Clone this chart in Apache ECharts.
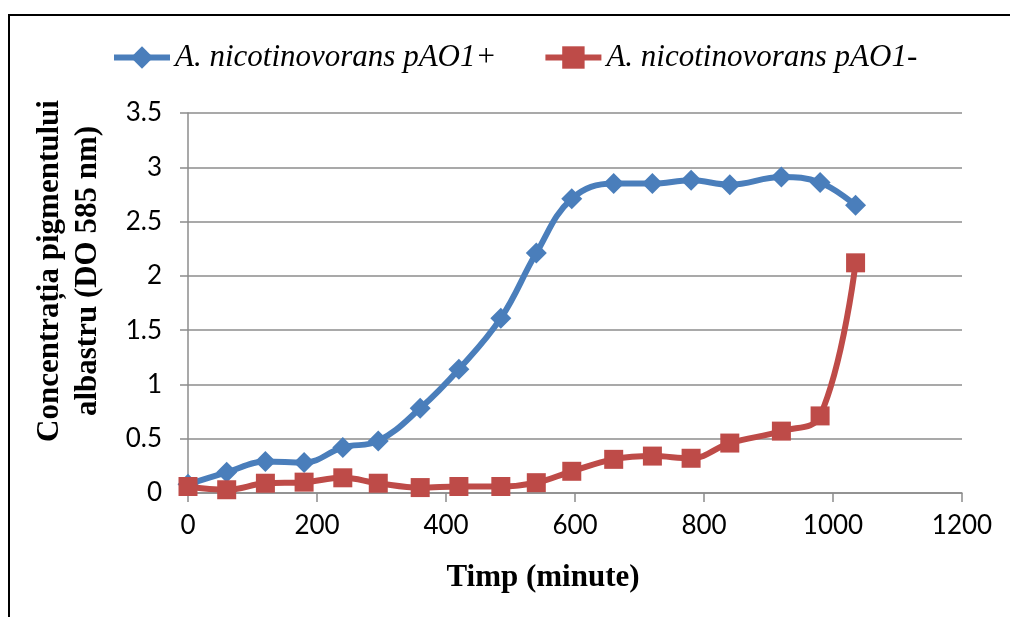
<!DOCTYPE html>
<html>
<head>
<meta charset="utf-8">
<script src="https://cdn.jsdelivr.net/npm/echarts@6/dist/echarts.min.js"></script>
<style>
  html, body { margin: 0; padding: 0; background: #fff; }
  #chart { width: 1010px; height: 617px; }
</style>
</head>
<body>
<div id="chart"></div>
<script>
// Sampling times (minutes)
const timeMin = [0, 60, 120, 180, 240, 295, 360, 420, 485, 540, 595, 660, 720, 780, 840, 920, 980, 1035];
// Blue pigment concentration (OD 585 nm)
const pAO1Plus = [0.08, 0.19, 0.29, 0.28, 0.42, 0.48, 0.78, 1.14, 1.61, 2.21, 2.71, 2.85, 2.85, 2.88, 2.84, 2.91, 2.86, 2.65];
const pAO1Minus = [0.06, 0.03, 0.09, 0.10, 0.14, 0.09, 0.05, 0.06, 0.06, 0.095, 0.20, 0.31, 0.34, 0.32, 0.46, 0.57, 0.71, 2.12];

const seriesNames = ['A. nicotinovorans pAO1+', 'A. nicotinovorans pAO1-'];
const xTitle = 'Timp (minute)';
const yTitle = 'Concentrația pigmentului\nalbastru (DO 585 nm)';

const BLUE = '#4A7EBB';
const RED = '#BE4B48';
const GRID = '#8C8C8C';
const LINE_W = 6;

const pairs = (xs, ys) => xs.map((x, i) => [x, ys[i]]);

const chart = echarts.init(document.getElementById('chart'), null, { renderer: 'canvas' });

chart.setOption({
  animation: false,
  backgroundColor: '#fff',
  grid: { left: 188, right: 48, top: 113, bottom: 124, containLabel: false },
  legend: {
    left: 106,
    top: 37,
    itemWidth: 56,
    itemHeight: 28,
    itemGap: 46,
    lineStyle: { width: LINE_W },
    textStyle: {
      fontFamily: 'Liberation Serif',
      fontStyle: 'italic',
      fontSize: 31,
      color: '#000'
    },
    data: seriesNames
  },
  xAxis: {
    type: 'value',
    min: 0,
    max: 1200,
    interval: 200,
    axisLine: { show: true, lineStyle: { color: GRID, width: 1.5 } },
    axisTick: { show: true, length: 9, lineStyle: { color: GRID, width: 1.5 } },
    splitLine: { show: false },
    axisLabel: {
      fontFamily: 'Lato', fontSize: 26, color: '#000', margin: 20,
      formatter: v => String(v)
    }
  },
  yAxis: {
    type: 'value',
    min: 0,
    max: 3.5,
    interval: 0.5,
    axisLine: { show: true, lineStyle: { color: GRID, width: 1.5 } },
    axisTick: { show: true, length: 8, lineStyle: { color: GRID, width: 1.5 } },
    splitLine: { show: true, lineStyle: { color: GRID, width: 1.5 } },
    axisLabel: {
      fontFamily: 'Lato', fontSize: 26, color: '#000', margin: 26,
      formatter: v => String(v)
    }
  },
  series: [
    {
      name: seriesNames[0],
      type: 'line',
      smooth: 0.4,
      data: pairs(timeMin, pAO1Plus),
      symbol: 'diamond',
      symbolSize: 21,
      lineStyle: { color: BLUE, width: LINE_W },
      itemStyle: { color: BLUE },
      z: 2
    },
    {
      name: seriesNames[1],
      type: 'line',
      smooth: 0.4,
      data: pairs(timeMin, pAO1Minus),
      symbol: 'rect',
      symbolSize: 19,
      lineStyle: { color: RED, width: LINE_W },
      itemStyle: { color: RED },
      z: 3
    }
  ],
  graphic: [
    {
      type: 'polyline',
      shape: { points: [[9, 617], [9, 15], [1010, 15]] },
      style: { stroke: '#000', lineWidth: 2, fill: null },
      silent: true
    },
    {
      type: 'text',
      x: 543,
      y: 578,
      style: {
        text: xTitle,
        fontFamily: 'Liberation Serif',
        fontWeight: 'bold',
        fontSize: 31,
        fill: '#000',
        align: 'center',
        verticalAlign: 'middle'
      }
    },
    {
      type: 'text',
      x: 69,
      y: 271,
      rotation: Math.PI / 2,
      style: {
        text: yTitle,
        fontFamily: 'Liberation Serif',
        fontWeight: 'bold',
        fontSize: 31,
        lineHeight: 38,
        fill: '#000',
        align: 'center',
        verticalAlign: 'middle'
      }
    }
  ]
});
</script>
</body>
</html>
